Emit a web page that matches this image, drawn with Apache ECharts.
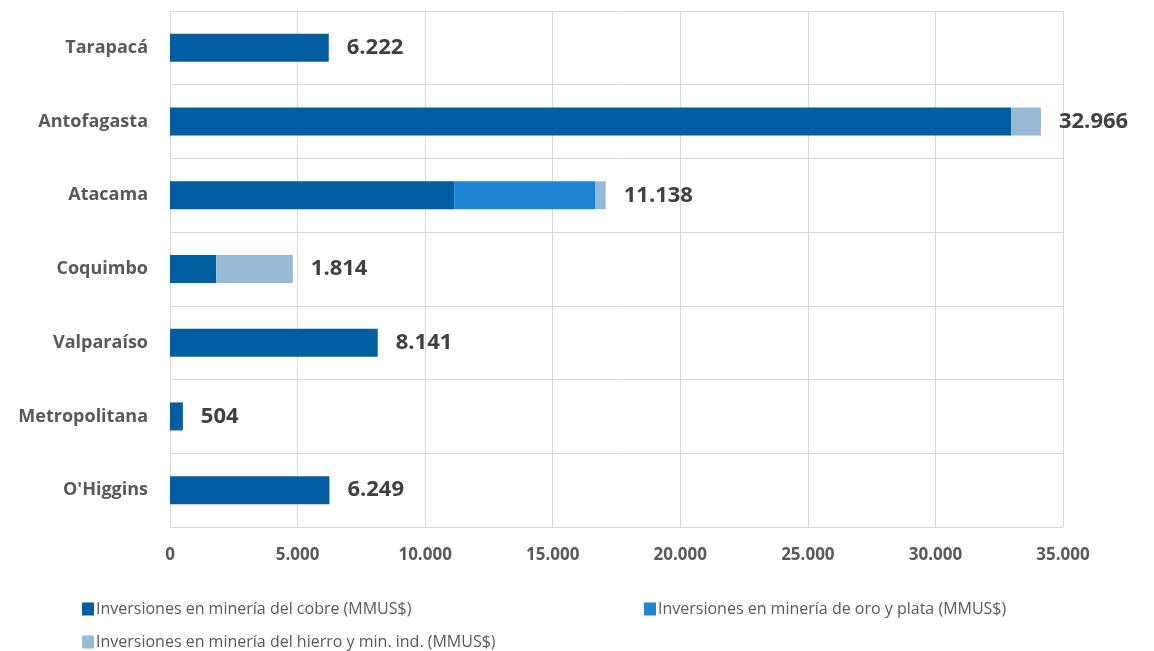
<!DOCTYPE html>
<html>
<head>
<meta charset="utf-8">
<script src="https://cdn.jsdelivr.net/npm/echarts@6/dist/echarts.min.js"></script>
<style>html,body{margin:0;padding:0;background:#fff;}#c{width:1154px;height:651px;}</style>
</head>
<body>
<div id="c"></div>
<script>
const categories = ["Tarapacá", "Antofagasta", "Atacama", "Coquimbo", "Valparaíso", "Metropolitana", "O'Higgins"];
const cobre = [6222, 32966, 11138, 1814, 8141, 504, 6249];
const oroPlata = [0, 0, 5520, 0, 0, 0, 0];
const hierro = [0, 1170, 420, 3000, 0, 0, 0];
const seriesNames = [
  "Inversiones en minería del cobre (MMUS$)",
  "Inversiones en minería de oro y plata (MMUS$)",
  "Inversiones en minería del hierro y min. ind. (MMUS$)"
];
const colors = ["#005DA0", "#1F84D3", "#96B9D6"];

const fmt = v => String(v).replace(/\B(?=(\d{3})+(?!\d))/g, ".");
const FONT = "Open Sans";

const chart = echarts.init(document.getElementById('c'));
const legendBase = {
  icon: 'rect', itemWidth: 12, itemHeight: 13, itemGap: 2, orient: 'horizontal',
  textStyle: { fontFamily: FONT, fontSize: 16, color: '#595959', padding: [0, 0, 0, -3] },
  selectedMode: false
};
chart.setOption({
  animation: false,
  textStyle: { fontFamily: FONT },
  grid: { left: 170, right: 91, top: 11, bottom: 124, containLabel: false },
  legend: [
    Object.assign({}, legendBase, { left: 77, top: 596, data: [seriesNames[0]] }),
    Object.assign({}, legendBase, { left: 639, top: 596, data: [seriesNames[1]] }),
    Object.assign({}, legendBase, { left: 77, top: 629, data: [seriesNames[2]] })
  ],
  xAxis: {
    type: 'value', min: 0, max: 35000, interval: 5000,
    axisLine: { show: false }, axisTick: { show: false },
    splitLine: { show: true, lineStyle: { color: '#D9D9D9', width: 1 } },
    axisLabel: { formatter: v => fmt(v), fontFamily: FONT, fontSize: 17, fontWeight: 'bold', color: '#595959', margin: 20 }
  },
  yAxis: {
    type: 'category', data: categories, inverse: true,
    axisLine: { show: true, lineStyle: { color: '#D9D9D9' } },
    axisTick: { show: false },
    splitLine: { show: true, lineStyle: { color: '#D9D9D9', width: 1 } },
    axisLabel: { fontFamily: FONT, fontSize: 18, fontWeight: 'bold', color: '#595959', margin: 22 }
  },
  series: [
    { name: seriesNames[0], type: 'bar', stack: 'total', data: cobre, barWidth: 28,
      itemStyle: { color: colors[0] } },
    { name: seriesNames[1], type: 'bar', stack: 'total', data: oroPlata, barWidth: 28,
      itemStyle: { color: colors[1] } },
    { name: seriesNames[2], type: 'bar', stack: 'total', data: hierro, barWidth: 28,
      itemStyle: { color: colors[2] },
      label: { show: true, position: 'right', distance: 18,
        formatter: p => fmt(cobre[p.dataIndex]),
        fontFamily: FONT, fontSize: 22, fontWeight: 'bold', color: '#404040' } }
  ]
});
</script>
</body>
</html>
